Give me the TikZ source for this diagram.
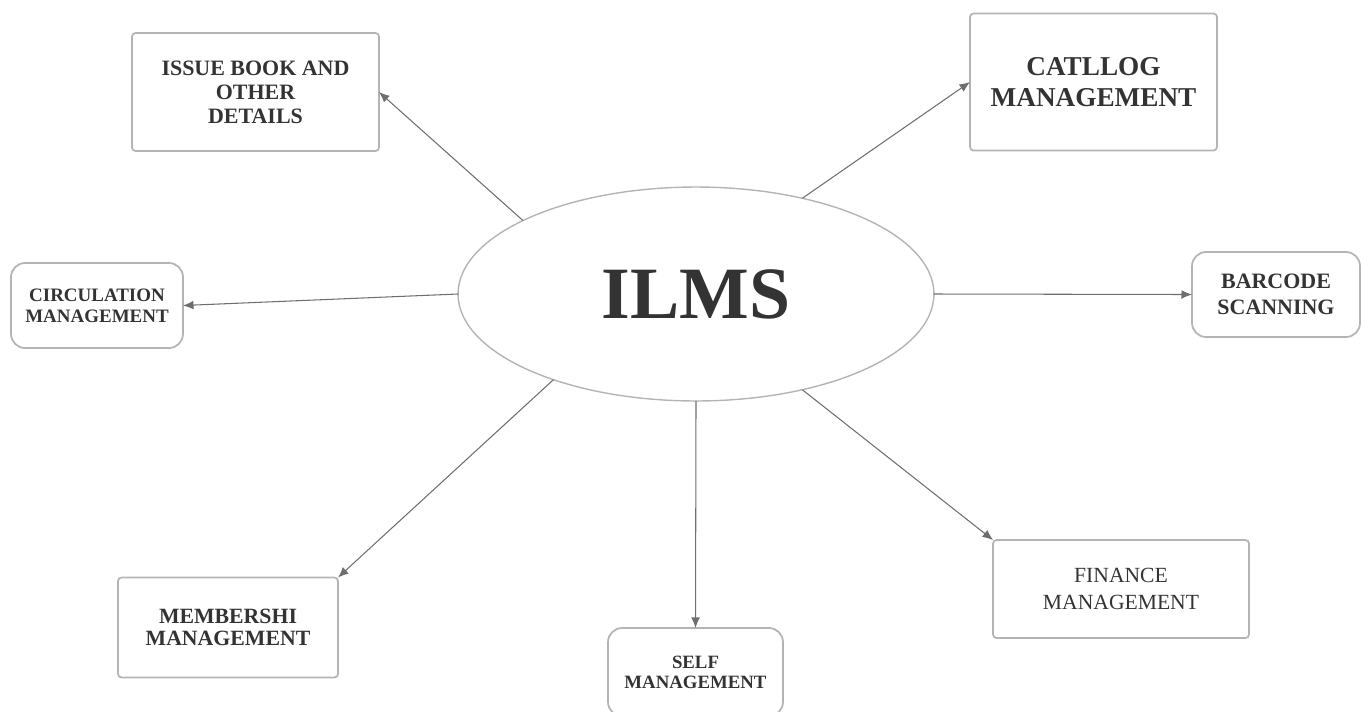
\documentclass[tikz,border=0pt]{standalone}
\usepackage{fontspec}
\setmainfont{Liberation Serif}
\usetikzlibrary{arrows.meta,shapes.geometric}
\definecolor{boxline}{HTML}{B4B4B4}
\definecolor{arrline}{HTML}{6E6E6E}
\definecolor{txt}{HTML}{333333}
\begin{document}
\begin{tikzpicture}[x=0.02cm,y=-0.02cm,
  box/.style={draw=boxline,line width=1pt,rounded corners=2pt,align=center,text=txt,inner sep=0pt,outer sep=0pt},
  rbox/.style={box,rounded corners=8pt},
  link/.style={draw=arrline,line width=0.6pt,-{Latex[length=6pt,width=5pt]}}]
\useasboundingbox (0,0) rectangle (1361,711);

\node[ellipse,draw=boxline,line width=0.8pt,inner sep=0pt,outer sep=0pt,minimum width=9.52cm,minimum height=4.28cm,text=txt,font=\fontsize{42}{48}\selectfont\bfseries] (ilms) at (696,294) {ILMS};

\node[box,minimum width=4.94cm,minimum height=2.36cm,font=\fontsize{12.5}{13.6}\selectfont\bfseries] (issue) at (255.5,92) {ISSUE BOOK AND\\OTHER\\DETAILS};
\node[box,minimum width=4.94cm,minimum height=2.74cm,font=\fontsize{15.5}{17.6}\selectfont\bfseries] (catllog) at (1093.5,82) {CATLLOG\\MANAGEMENT};
\node[rbox,minimum width=3.44cm,minimum height=1.7cm,font=\fontsize{10.8}{12}\selectfont\bfseries] (circ) at (97,305.5) {CIRCULATION\\MANAGEMENT};
\node[rbox,minimum width=3.36cm,minimum height=1.7cm,font=\fontsize{12.5}{14.7}\selectfont\bfseries] (barcode) at (1276,294.5) {BARCODE\\SCANNING};
\node[box,minimum width=4.4cm,minimum height=2cm,font=\fontsize{12.4}{12.8}\selectfont\bfseries] (memb) at (228,627.5) {MEMBERSHI\\MANAGEMENT};
\node[rbox,minimum width=3.5cm,minimum height=1.76cm,font=\fontsize{10.7}{11.4}\selectfont\bfseries] (self) at (695.5,672) {SELF\\MANAGEMENT};
\node[box,minimum width=5.12cm,minimum height=1.96cm,font=\fontsize{12.3}{15.3}\selectfont] (fin) at (1121,589) {FINANCE\\MANAGEMENT};

\draw[link] (ilms.157) -- (issue.east);
\draw[link] (ilms.42) -- (catllog.west);
\draw[link] (ilms.west) -- (circ.east);
\draw[link] (ilms.east) -- (barcode.west);
\draw[link] (ilms.211) -- (memb.north east);
\draw[link] (ilms.south) -- (self.north);
\draw[link] (ilms.318) -- (fin.north west);
\end{tikzpicture}
\end{document}
